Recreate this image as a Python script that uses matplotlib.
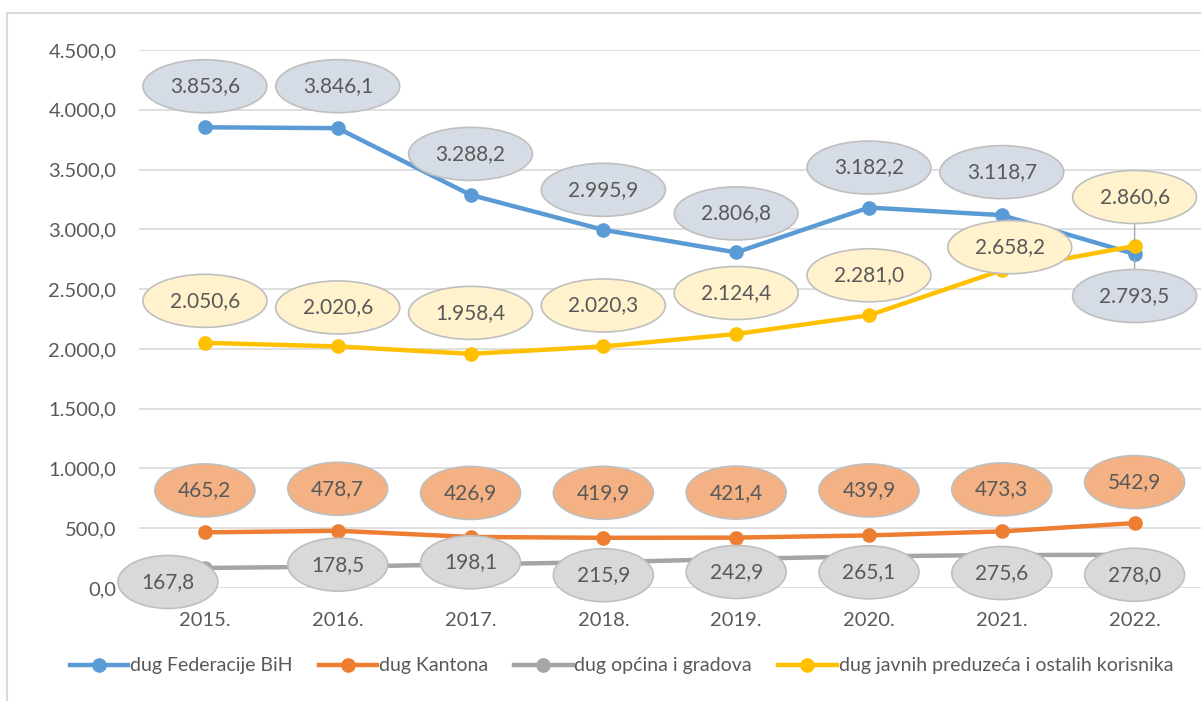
import matplotlib
matplotlib.use("Agg")
import matplotlib.pyplot as plt
from matplotlib.lines import Line2D

plt.rcParams["font.family"] = ["Lato", "DejaVu Sans"]

years = ["2015.", "2016.", "2017.", "2018.", "2019.", "2020.", "2021.", "2022."]
federacija = [3853.6, 3846.1, 3288.2, 2995.9, 2806.8, 3182.2, 3118.7, 2793.5]
kantoni = [465.2, 478.7, 426.9, 419.9, 421.4, 439.9, 473.3, 542.9]
opcine = [167.8, 178.5, 198.1, 215.9, 242.9, 265.1, 275.6, 278.0]
preduzeca = [2050.6, 2020.6, 1958.4, 2020.3, 2124.4, 2281.0, 2658.2, 2860.6]

names = ["dug Federacije BiH", "dug Kantona", "dug općina i gradova",
         "dug javnih preduzeća i ostalih korisnika"]
colors = ["#5B9BD5", "#ED7D31", "#A5A5A5", "#FFC000"]
label_fill = ["#D6DCE5", "#F4B183", "#D9D9D9", "#FFF2CC"]

# label offsets in pixels (dx, dy) relative to the data point
offsets = [
    [(0, 41), (0, 42), (0, 41), (0, 40), (0, 39), (0, 40), (0, 43), (0, -42)],
    [(0, 42), (0, 42), (0, 44), (0, 45), (0, 45), (0, 45), (0, 42), (0, 41)],
    [(-37, -14), (0, 2), (0, 2), (0, -13), (0, -13), (0, -16), (0, -18), (0, -20)],
    [(0, 42), (0, 39), (0, 41), (0, 41), (0, 41), (0, 40), (8, 23), (0, 49)],
]
leaders = {(0, 7), (3, 7)}  # labels pulled away from their point get a thin line

series = [federacija, kantoni, opcine, preduzeca]
x = list(range(len(years)))


def fmt(v):
    return f"{v:,.1f}".replace(",", "X").replace(".", ",").replace("X", ".")


fig = plt.figure(figsize=(12.01, 7.01), dpi=100)
ax = fig.add_axes([138.5 / 1201, 1 - 588 / 701, 1 - 138.5 / 1201, (588 - 50) / 701])

for vals, c in zip(series, colors):
    ax.plot(x, vals, color=c, lw=3.2, marker="o", ms=9.5, zorder=3,
            solid_capstyle="round")

for k, (vals, fill, offs) in enumerate(zip(series, label_fill, offsets)):
    for i, v in enumerate(vals):
        dx, dy = offs[i]
        leader = None
        if (k, i) in leaders:
            leader = dict(arrowstyle="-", color="#A6A6A6", lw=1, shrinkA=0, shrinkB=4)
        ax.annotate(fmt(v), (i, v), xytext=(dx, dy), textcoords="offset pixels",
                    ha="center", va="center", fontsize=15, color="#595959",
                    zorder=5, arrowprops=leader,
                    bbox=dict(boxstyle="ellipse,pad=0.42", fc=fill, ec="#BFBFBF", lw=1.2))

ax.set_xlim(-0.5, len(years) - 0.5)
ax.set_ylim(0, 4500)
ax.set_yticks(range(0, 4501, 500))
ax.set_yticklabels([fmt(t) for t in range(0, 4501, 500)])
ax.set_xticks(x)
ax.set_xticklabels(years)
ax.tick_params(length=0, labelsize=14.5, labelcolor="#595959")
ax.tick_params(axis="y", pad=16)
ax.tick_params(axis="x", pad=17)
ax.grid(axis="y", color="#D9D9D9", lw=1.2)
ax.set_axisbelow(True)
for s in ax.spines.values():
    s.set_visible(False)
for lbl in ax.get_xticklabels():
    lbl.set_zorder(6)

handles = [Line2D([], [], color=c, lw=3.2, marker="o", ms=9.5) for c in colors]
fig.legend(handles, names, loc="center left", bbox_to_anchor=(52 / 1201, 1 - 666 / 701),
           ncol=4, frameon=False, fontsize=14, labelcolor="#595959",
           handlelength=3.0, handletextpad=0.1, columnspacing=1.35)

# chart frame
fig.add_artist(Line2D([7 / 1201, 7 / 1201], [0, 1 - 13 / 701], color="#D9D9D9", lw=1.5))
fig.add_artist(Line2D([7 / 1201, 1], [1 - 13 / 701, 1 - 13 / 701], color="#D9D9D9", lw=1.5))

fig.savefig("out.png", dpi=100)
